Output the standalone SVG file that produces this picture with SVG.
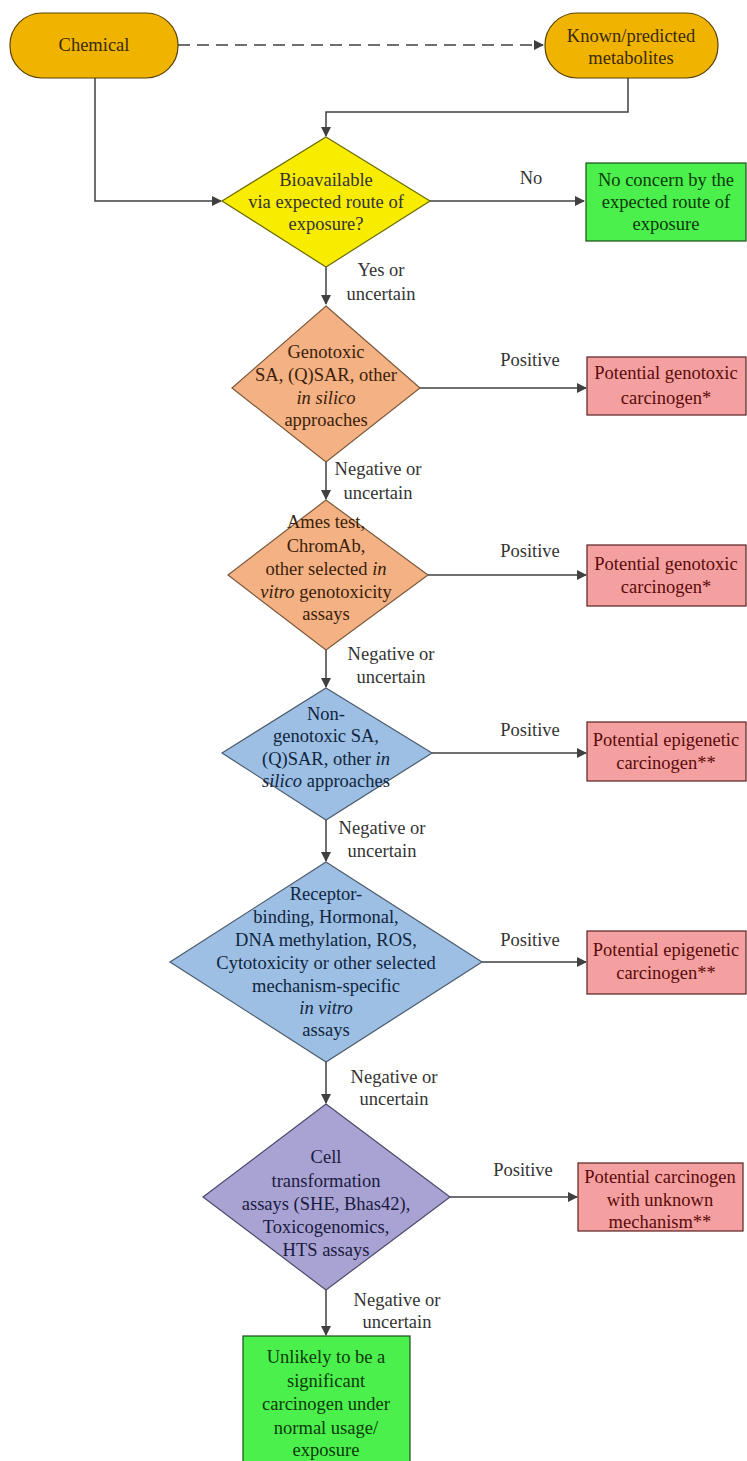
<svg xmlns="http://www.w3.org/2000/svg" width="747" height="1461" viewBox="0 0 747 1461">
<style>
text{font-family:"Liberation Serif","Tinos","DejaVu Serif","Noto Serif",serif;font-size:18.5px;text-anchor:middle}
.ln{fill:none;stroke:#404040;stroke-width:1.5}
.lbl{fill:#333}
.pill{fill:#F0B400;stroke:#5a4300;stroke-width:1.2}
.pill-t{fill:#3a2a00}
.yel{fill:#F8EC00;stroke:#6a6a00;stroke-width:1.2}
.grn{fill:#4CF04C;stroke:#1a4d1a;stroke-width:1.2}
.grn-t{fill:#0a3a0a}
.org{fill:#F4B183;stroke:#7a5a3a;stroke-width:1.2}
.org-t{fill:#3a1e0a}
.blu{fill:#9DBFE3;stroke:#4a5a6a;stroke-width:1.2}
.blu-t{fill:#0f2540}
.pur{fill:#A9A3D3;stroke:#4a4a6a;stroke-width:1.2}
.pur-t{fill:#1a1a40}
.pnk{fill:#F4A0A0;stroke:#5a2020;stroke-width:1.2}
.pnk-t{fill:#5a0a0a}
</style>
<defs>
<marker id="ah" viewBox="0 0 10 10" refX="9" refY="5" markerWidth="10" markerHeight="10" markerUnits="userSpaceOnUse" orient="auto">
<path d="M0,0 L10,5 L0,10 z" fill="#404040"/>
</marker>
</defs>
<rect width="747" height="1461" fill="#fff"/>

<g id="connectors">
<path class="ln" d="M178,45 H543" stroke-dasharray="12,7" marker-end="url(#ah)"/>
<path class="ln" d="M95,78 V201 H221" marker-end="url(#ah)"/>
<path class="ln" d="M628,78 V112 H326 V136" marker-end="url(#ah)"/>
<path class="ln" d="M430,201 H584" marker-end="url(#ah)"/>
<text class="lbl" x="531" y="184">No</text>
<path class="ln" d="M326,267 V304" marker-end="url(#ah)"/>
<text class="lbl" x="381" y="276">Yes or</text>
<text class="lbl" x="381" y="300">uncertain</text>
<path class="ln" d="M420,388 H586" marker-end="url(#ah)"/>
<text class="lbl" x="530" y="366">Positive</text>
<path class="ln" d="M326,462 V499" marker-end="url(#ah)"/>
<text class="lbl" x="378" y="475">Negative or</text>
<text class="lbl" x="378" y="499">uncertain</text>
<path class="ln" d="M428,575 H586" marker-end="url(#ah)"/>
<text class="lbl" x="530" y="557">Positive</text>
<path class="ln" d="M326,650 V687" marker-end="url(#ah)"/>
<text class="lbl" x="391" y="660">Negative or</text>
<text class="lbl" x="391" y="683">uncertain</text>
<path class="ln" d="M432,753 H586" marker-end="url(#ah)"/>
<text class="lbl" x="530" y="736">Positive</text>
<path class="ln" d="M326,820 V861" marker-end="url(#ah)"/>
<text class="lbl" x="382" y="834">Negative or</text>
<text class="lbl" x="382" y="857">uncertain</text>
<path class="ln" d="M482,962 H586" marker-end="url(#ah)"/>
<text class="lbl" x="530" y="946">Positive</text>
<path class="ln" d="M326,1062 V1103" marker-end="url(#ah)"/>
<text class="lbl" x="394" y="1083">Negative or</text>
<text class="lbl" x="394" y="1105">uncertain</text>
<path class="ln" d="M450,1197 H577" marker-end="url(#ah)"/>
<text class="lbl" x="523" y="1176">Positive</text>
<path class="ln" d="M326,1290 V1335" marker-end="url(#ah)"/>
<text class="lbl" x="397" y="1306">Negative or</text>
<text class="lbl" x="397" y="1328">uncertain</text>
</g>

<g id="chemical">
<rect class="pill" x="10" y="13" width="168" height="65" rx="32" ry="32"/>
<text class="pill-t" x="94" y="51">Chemical</text>
</g>
<g id="metabolites">
<rect class="pill" x="545" y="13" width="173" height="65" rx="32" ry="32"/>
<text class="pill-t" x="631" y="42">Known/predicted</text>
<text class="pill-t" x="631" y="64">metabolites</text>
</g>

<g id="bioavailable">
<polygon class="yel" points="326,137 430,201 326,267 222,201"/>
<text x="326" y="186" fill="#333">Bioavailable</text>
<text x="326" y="208" fill="#333">via expected route of</text>
<text x="326" y="230" fill="#333">exposure?</text>
</g>
<g id="noconcern">
<rect class="grn" x="586" y="163" width="160" height="78"/>
<text class="grn-t" x="666" y="186">No concern by the</text>
<text class="grn-t" x="666" y="208">expected route of</text>
<text class="grn-t" x="666" y="230">exposure</text>
</g>

<g id="genotoxic-silico">
<polygon class="org" points="326,306 420,388 326,462 232,388"/>
<text class="org-t" x="326" y="358">Genotoxic</text>
<text class="org-t" x="326" y="381">SA, (Q)SAR, other</text>
<text class="org-t" x="326" y="404" font-style="italic">in silico</text>
<text class="org-t" x="326" y="426">approaches</text>
</g>
<g id="pgc1">
<rect class="pnk" x="587" y="357" width="159" height="58"/>
<text class="pnk-t" x="666" y="379">Potential genotoxic</text>
<text class="pnk-t" x="666" y="404">carcinogen*</text>
</g>

<g id="ames">
<polygon class="org" points="326,500 428,575 326,650 228,575"/>
<text class="org-t" x="326" y="528">Ames test,</text>
<text class="org-t" x="326" y="552">ChromAb,</text>
<text class="org-t" x="326" y="575">other selected <tspan font-style="italic">in</tspan></text>
<text class="org-t" x="326" y="598"><tspan font-style="italic">vitro</tspan> genotoxicity</text>
<text class="org-t" x="326" y="620">assays</text>
</g>
<g id="pgc2">
<rect class="pnk" x="587" y="545" width="159" height="61"/>
<text class="pnk-t" x="666" y="570">Potential genotoxic</text>
<text class="pnk-t" x="666" y="593">carcinogen*</text>
</g>

<g id="nongenotoxic">
<polygon class="blu" points="326,688 432,753 326,820 222,753"/>
<text class="blu-t" x="326" y="720">Non-</text>
<text class="blu-t" x="326" y="742">genotoxic SA,</text>
<text class="blu-t" x="326" y="765">(Q)SAR, other <tspan font-style="italic">in</tspan></text>
<text class="blu-t" x="326" y="787"><tspan font-style="italic">silico</tspan> approaches</text>
</g>
<g id="pec1">
<rect class="pnk" x="587" y="722" width="159" height="59"/>
<text class="pnk-t" x="666" y="746">Potential epigenetic</text>
<text class="pnk-t" x="666" y="769">carcinogen**</text>
</g>

<g id="receptor">
<polygon class="blu" points="326,862 482,962 326,1062 170,962"/>
<text class="blu-t" x="326" y="900">Receptor-</text>
<text class="blu-t" x="326" y="923">binding, Hormonal,</text>
<text class="blu-t" x="326" y="946">DNA methylation, ROS,</text>
<text class="blu-t" x="326" y="969">Cytotoxicity or other selected</text>
<text class="blu-t" x="326" y="992">mechanism-specific</text>
<text class="blu-t" x="326" y="1014" font-style="italic">in vitro</text>
<text class="blu-t" x="326" y="1036">assays</text>
</g>
<g id="pec2">
<rect class="pnk" x="587" y="931" width="159" height="63"/>
<text class="pnk-t" x="666" y="956">Potential epigenetic</text>
<text class="pnk-t" x="666" y="979">carcinogen**</text>
</g>

<g id="celltransformation">
<polygon class="pur" points="326,1104 450,1197 326,1290 203,1197"/>
<text class="pur-t" x="326" y="1163">Cell</text>
<text class="pur-t" x="326" y="1187">transformation</text>
<text class="pur-t" x="326" y="1210">assays (SHE, Bhas42),</text>
<text class="pur-t" x="326" y="1233">Toxicogenomics,</text>
<text class="pur-t" x="326" y="1256">HTS assays</text>
</g>
<g id="pcu">
<rect class="pnk" x="578" y="1163" width="165" height="68"/>
<text class="pnk-t" x="660" y="1183">Potential carcinogen</text>
<text class="pnk-t" x="660" y="1206">with unknown</text>
<text class="pnk-t" x="660" y="1228">mechanism**</text>
</g>

<g id="unlikely">
<rect class="grn" x="243" y="1336" width="167" height="130"/>
<text class="grn-t" x="326" y="1363">Unlikely to be a</text>
<text class="grn-t" x="326" y="1387">significant</text>
<text class="grn-t" x="326" y="1410">carcinogen under</text>
<text class="grn-t" x="326" y="1434">normal usage/</text>
<text class="grn-t" x="326" y="1456">exposure</text>
</g>
</svg>
